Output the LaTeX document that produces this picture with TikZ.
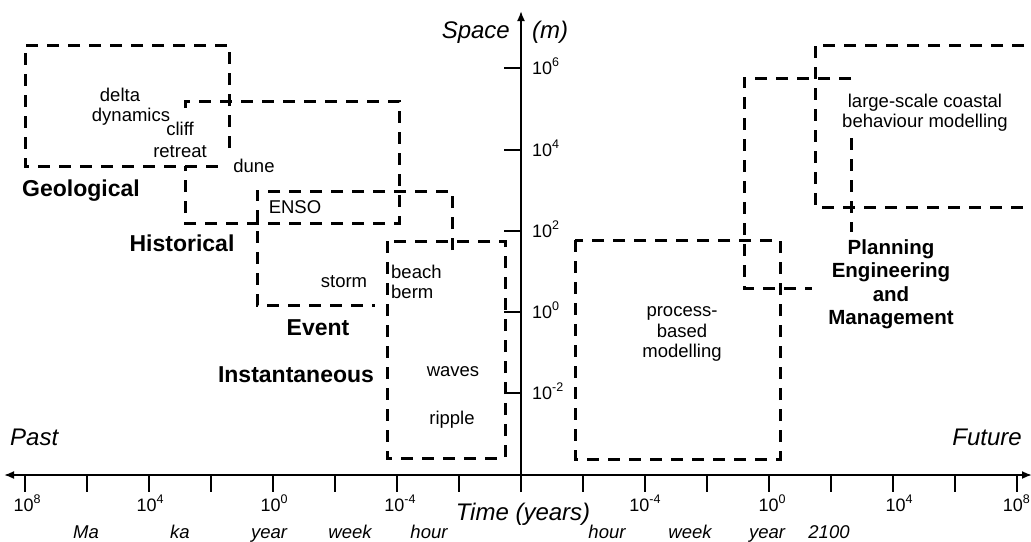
\documentclass[tikz,border=0pt]{standalone}
\usepackage{fontspec}
\setmainfont{Liberation Sans}
\usetikzlibrary{arrows.meta}
\newcommand\upx[1]{\raisebox{0.42em}{\fontsize{12.5}{12.5}\selectfont #1}}
\begin{document}
\begin{tikzpicture}[x=1pt,y=-1pt,
  zonebox/.style={line width=3pt, dash pattern=on 12pt off 9pt, line join=miter},
  axisline/.style={line width=1.8pt},
  tickline/.style={line width=1.4pt},
  lbl/.style={font=\fontsize{18.5}{20.5}\selectfont, inner sep=0pt},
  bigl/.style={font=\bfseries\fontsize{23}{25}\selectfont, inner sep=0pt},
  planl/.style={font=\bfseries\fontsize{20.5}{23.5}\selectfont, inner sep=0pt, align=center},
  ital/.style={font=\itshape\fontsize{24}{26}\selectfont, inner sep=0pt},
  unitl/.style={font=\itshape\fontsize{18.5}{20}\selectfont, inner sep=0pt},
  tickl/.style={font=\fontsize{18}{20}\selectfont, inner sep=0pt}]
\clip (0,0) rectangle (1031,541);
\fill[white] (0,0) rectangle (1031,541);

% axes
\coordinate (xl) at (4,475);
\coordinate (xr) at (1032,475);
\coordinate (yb) at (521,492);
\coordinate (yt) at (521,11);
\draw[axisline, {Latex[length=10pt,width=8pt]}-{Latex[length=10pt,width=8pt]}] (xl) -- (xr);
\draw[axisline, -{Latex[length=10pt,width=8pt]}] (yb) -- (yt);

% time ticks
\foreach \k in {1,...,8} {
  \draw[tickline] (521-62*\k,475) -- (521-62*\k,492);
  \draw[tickline] (521+62*\k,475) -- (521+62*\k,492);
}
% space ticks
\foreach \y in {68,150,231,312,393} {
  \draw[tickline] (504,\y) -- (521,\y);
}

% time tick labels
\node[tickl, anchor=base] (tl8) at (27,511) {10\upx{8}};
\node[tickl, anchor=base] (tl4) at (150,511) {10\upx{4}};
\node[tickl, anchor=base] (tl0) at (274,511) {10\upx{0}};
\node[tickl, anchor=base] (tlm4) at (400,511) {10\upx{-4}};
\node[tickl, anchor=base] (trm4) at (645,511) {10\upx{-4}};
\node[tickl, anchor=base] (tr0) at (772,511) {10\upx{0}};
\node[tickl, anchor=base] (tr4) at (899,511) {10\upx{4}};
\node[tickl, anchor=base east] (tr8) at (1030,511) {10\upx{8}};

% unit labels
\node[unitl, anchor=base] (uMa) at (86,538) {Ma};
\node[unitl, anchor=base] (uka) at (180,538) {ka};
\node[unitl, anchor=base] (uyl) at (269,538) {year};
\node[unitl, anchor=base] (uwl) at (350,538) {week};
\node[unitl, anchor=base] (uhl) at (429,538) {hour};
\node[unitl, anchor=base] (uhr) at (607,538) {hour};
\node[unitl, anchor=base] (uwr) at (690,538) {week};
\node[unitl, anchor=base] (uyr) at (767,538) {year};
\node[unitl, anchor=base] (u2100) at (829,538) {2100};

% space tick labels
\node[tickl, anchor=base west] (s6) at (532,74.5) {10\upx{6}};
\node[tickl, anchor=base west] (s4) at (532,156.5) {10\upx{4}};
\node[tickl, anchor=base west] (s2) at (532,237.5) {10\upx{2}};
\node[tickl, anchor=base west] (s0) at (532,318.5) {10\upx{0}};
\node[tickl, anchor=base west] (sm2) at (532,399.5) {10\upx{-2}};

% axis titles
\node[ital, anchor=base east] (space) at (510,38) {Space};
\node[ital, anchor=base west] (m) at (532,38) {(m)};
\node[ital, anchor=base] (time) at (523,520) {Time (years)};
\node[ital, anchor=base west] (past) at (10,445) {Past};
\node[ital, anchor=base east] (future) at (1022,445) {Future};

% dashed zones
\draw[zonebox] (229,148) -- (229,45) -- (25,45) -- (25,166) -- (222,166);
\draw[zonebox] (185,108) -- (185,101) -- (399,101) -- (399,223) -- (185,223) -- (185,166);
\draw[zonebox] (452,250) -- (452,191) -- (257,191) -- (257,305) -- (375,305);
\draw[zonebox] (387,241) rectangle (505,458);
\draw[zonebox] (575,240) rectangle (780,459);
\draw[zonebox] (851,78) -- (744,78) -- (744,288) -- (812,288);
\draw[zonebox] (851,138) -- (851,232);
\draw[zonebox] (1045,45) -- (815,45) -- (815,207) -- (1045,207);

% texts
\node[lbl, anchor=base] (delta) at (120,101) {delta};
\node[lbl, anchor=base] (dyn) at (131,121) {dynamics};
\node[lbl, anchor=north, align=center, font=\fontsize{18.5}{22}\selectfont] (cliff) at (180,121.5) {cliff\\retreat};
\node[lbl, anchor=base] (dune) at (254,172) {dune};
\node[bigl, anchor=base] (geo) at (81,196) {Geological};
\node[lbl, anchor=base] (enso) at (295,213) {ENSO};
\node[bigl, anchor=base] (hist) at (182,251) {Historical};
\node[lbl, anchor=base] (storm) at (344,287) {storm};
\node[lbl, anchor=north west, align=left] (beach) at (391,264.5) {beach\\berm};
\node[bigl, anchor=base] (event) at (318,335) {Event};
\node[bigl, anchor=base] (inst) at (296,382) {Instantaneous};
\node[lbl, anchor=base] (waves) at (453,376) {waves};
\node[lbl, anchor=base] (ripple) at (452,424) {ripple};
\node[lbl, anchor=north, align=center] (proc) at (682,306.5) {process-\\based\\modelling};
\node[lbl, anchor=north, align=center] (large) at (925,93.5) {large-scale coastal\\behaviour modelling};
\node[planl, anchor=north] (plan) at (891,239) {Planning\\Engineering\\and\\Management};
\end{tikzpicture}
\end{document}
